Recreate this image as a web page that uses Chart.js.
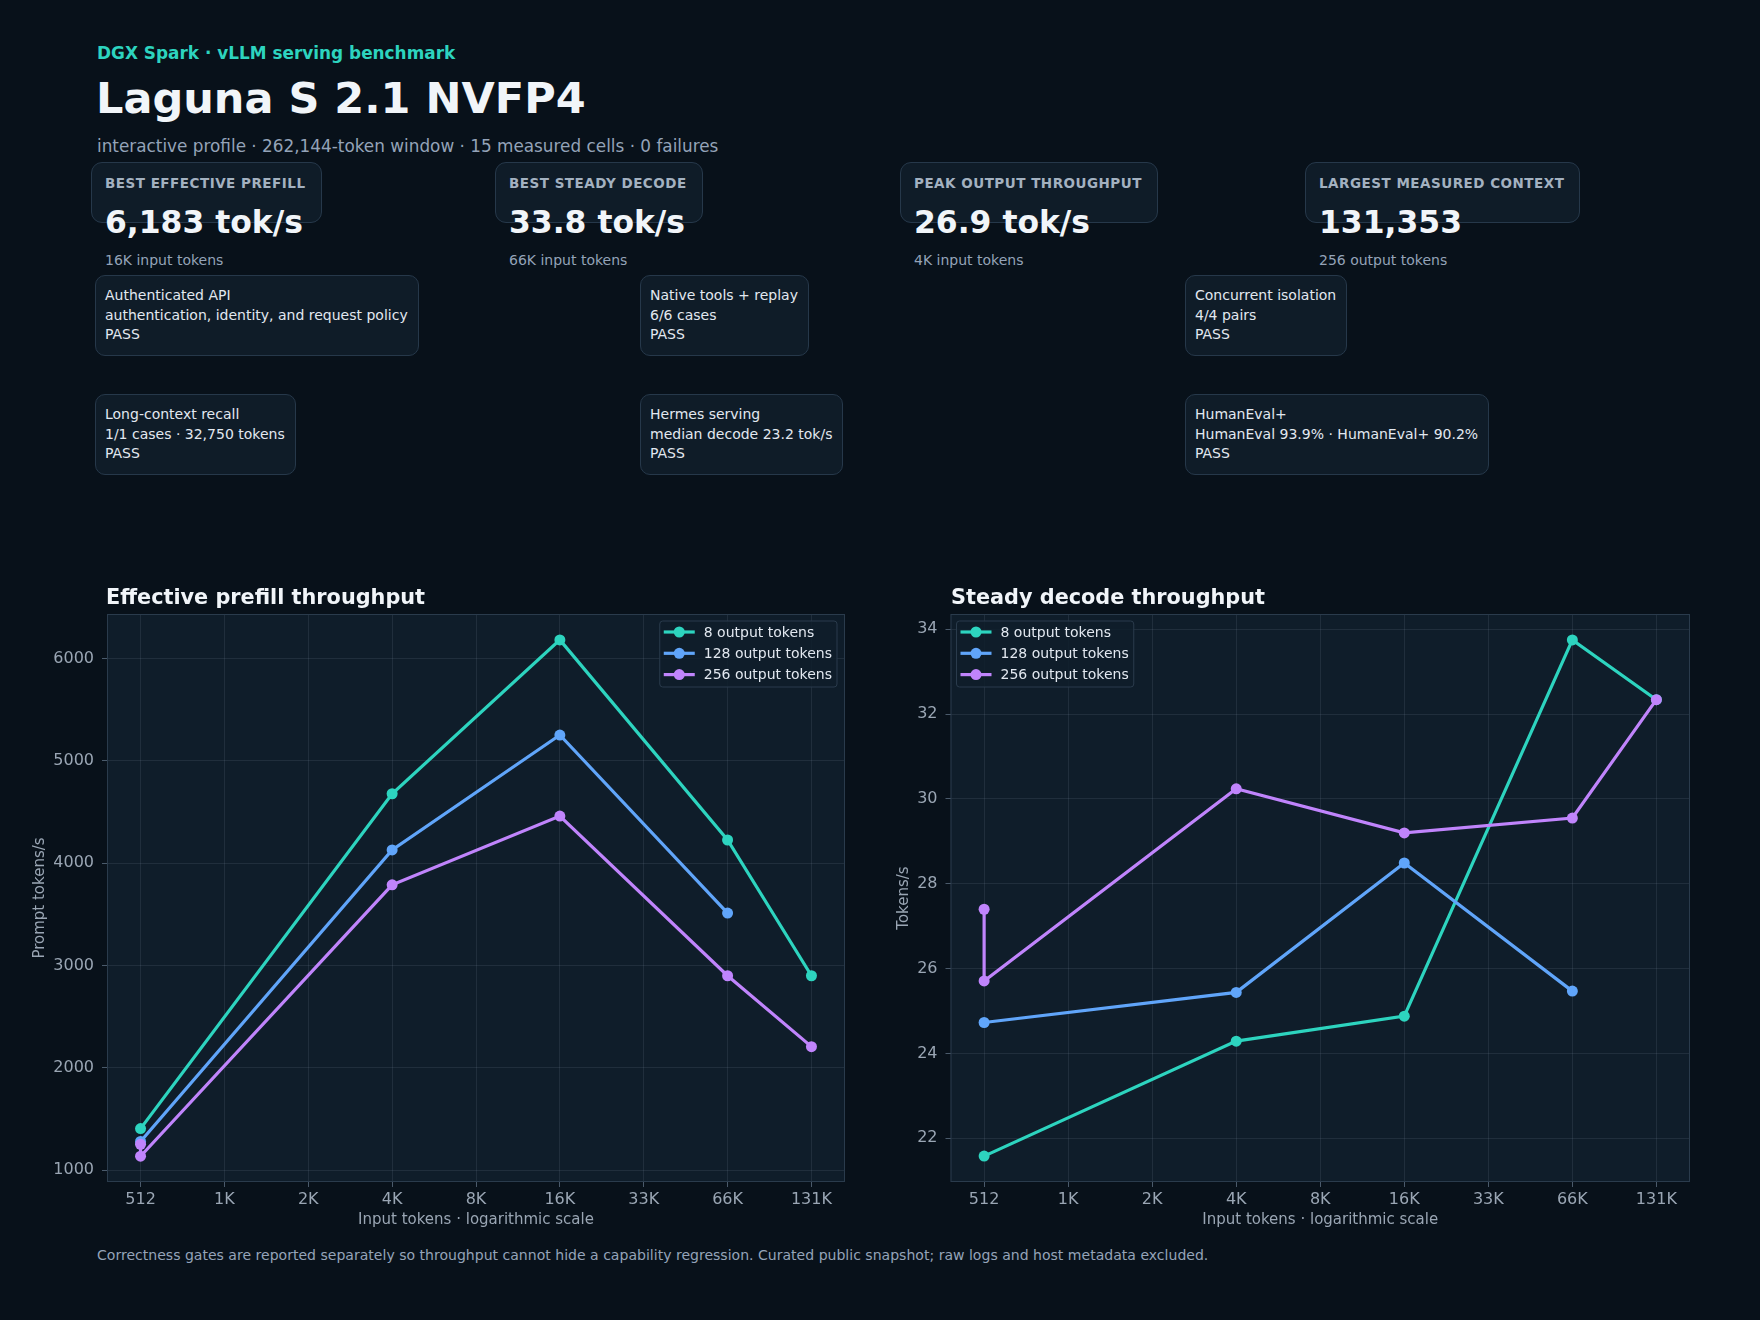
<!DOCTYPE html>
<html>
<head>
<meta charset="utf-8">
<script src="https://cdn.jsdelivr.net/npm/chart.js@4.4.1/dist/chart.umd.min.js"></script>
<style>
  body { margin: 0; background: #08111a; font-family: "DejaVu Sans", sans-serif; }
  #page { position: relative; width: 1760px; height: 1320px; overflow: hidden; }
  #kicker { position: absolute; left: 97px; top: 45px; font-size: 16.9px; line-height: 17px; font-weight: bold; color: #2dd4bf; }
  #title { position: absolute; left: 96px; top: 77px; margin: 0; font-size: 43px; line-height: 43px; font-weight: bold; color: #f1f5f9; }
  #sub { position: absolute; left: 97px; top: 138px; font-size: 16.85px; line-height: 17px; color: #94a3b8; }
  .stat { position: absolute; top: 162px; }
  .stat .box { display: inline-block; height: 61px; box-sizing: border-box; padding: 14px 15px 0 13px; border: 1.5px solid #26384a; border-radius: 11px; background: #0f1c28; font-size: 13.5px; line-height: 13.5px; font-weight: bold; letter-spacing: 0.5px; color: #a3b1c0; white-space: nowrap; }
  .stat .val { position: absolute; left: 14px; top: 45px; font-size: 31.4px; line-height: 31px; font-weight: bold; color: #f1f5f9; white-space: nowrap; }
  .stat .note { position: absolute; left: 14px; top: 91px; font-size: 14px; line-height: 14px; color: #94a3b8; white-space: nowrap; }
  .gate { position: absolute; height: 81px; box-sizing: border-box; padding: 10px 10px 0 9px; border: 1.5px solid #26384a; border-radius: 10px; background: #0f1c28; color: #e2e8f0; font-size: 14px; line-height: 19.5px; white-space: nowrap; }
  .chart { position: absolute; top: 570px; width: 880px; height: 660px; }
  .ctitle { position: absolute; top: 587px; font-size: 20.8px; line-height: 21px; font-weight: bold; color: #f1f5f9; }
  #foot { position: absolute; left: 97px; top: 1248px; font-size: 14.05px; line-height: 14px; color: #94a3b8; }
</style>
</head>
<body>
<div id="page">
  <div id="kicker">DGX Spark · vLLM serving benchmark</div>
  <h1 id="title">Laguna S 2.1 NVFP4</h1>
  <div id="sub">interactive profile · 262,144-token window · 15 measured cells · 0 failures</div>

  <div class="stat" style="left:91px"><div class="box">BEST EFFECTIVE PREFILL</div><div class="val">6,183 tok/s</div><div class="note">16K input tokens</div></div>
  <div class="stat" style="left:495px"><div class="box">BEST STEADY DECODE</div><div class="val">33.8 tok/s</div><div class="note">66K input tokens</div></div>
  <div class="stat" style="left:900px"><div class="box">PEAK OUTPUT THROUGHPUT</div><div class="val">26.9 tok/s</div><div class="note">4K input tokens</div></div>
  <div class="stat" style="left:1305px"><div class="box">LARGEST MEASURED CONTEXT</div><div class="val">131,353</div><div class="note">256 output tokens</div></div>

  <div class="gate" style="left:95px;top:275px">Authenticated API<br>authentication, identity, and request policy<br>PASS</div>
  <div class="gate" style="left:640px;top:275px">Native tools + replay<br>6/6 cases<br>PASS</div>
  <div class="gate" style="left:1185px;top:275px">Concurrent isolation<br>4/4 pairs<br>PASS</div>
  <div class="gate" style="left:95px;top:394px">Long-context recall<br>1/1 cases · 32,750 tokens<br>PASS</div>
  <div class="gate" style="left:640px;top:394px">Hermes serving<br>median decode 23.2 tok/s<br>PASS</div>
  <div class="gate" style="left:1185px;top:394px">HumanEval+<br>HumanEval 93.9% · HumanEval+ 90.2%<br>PASS</div>

  <div class="chart" style="left:0px"><canvas id="prefill" width="880" height="660"></canvas></div>
  <div class="chart" style="left:880px"><canvas id="decode" width="880" height="660"></canvas></div>
  <div class="ctitle" style="left:106px">Effective prefill throughput</div>
  <div class="ctitle" style="left:951px">Steady decode throughput</div>

  <div id="foot">Correctness gates are reported separately so throughput cannot hide a capability regression. Curated public snapshot; raw logs and host metadata excluded.</div>
</div>

<script>
// x axis: input tokens (log scale, powers of two)
var xTicks = [512, 1024, 2048, 4096, 8192, 16384, 32768, 65536, 131072];
var xTickLabels = ['512', '1K', '2K', '4K', '8K', '16K', '33K', '66K', '131K'];

var seriesNames = ['8 output tokens', '128 output tokens', '256 output tokens'];
var seriesColors = ['#2dd4bf', '#60a5fa', '#c084fc'];

// input tokens per series (256 has two runs at 512)
var x8 = [512, 4096, 16384, 65536, 131072];
var x128 = [512, 4096, 16384, 65536];
var x256 = [512, 512, 4096, 16384, 65536, 131072];

// effective prefill, prompt tokens/s
var prefill8 = [1406, 4679, 6183, 4227, 2900];
var prefill128 = [1280, 4130, 5253, 3513];
var prefill256 = [1253, 1136, 3789, 4461, 2900, 2207];
var prefillTicks = [1000, 2000, 3000, 4000, 5000, 6000];

// steady decode, tokens/s
var decode8 = [21.58, 24.29, 24.88, 33.75, 32.34];
var decode128 = [24.73, 25.44, 28.49, 25.47];
var decode256 = [27.40, 25.71, 30.24, 29.20, 29.55, 32.34];
var decodeTicks = [22, 24, 26, 28, 30, 32, 34];

var tickColor = '#9aa6b4';
var gridColor = 'rgba(148,163,184,0.13)';
var tickMarkColor = '#4a5a6b';
var plotBg = '#0f1d2a';
var frameColor = '#2a3b4c';

Chart.defaults.font.family = '"DejaVu Sans", sans-serif';
Chart.defaults.color = tickColor;

function pairs(xs, ys) {
  return xs.map(function (x, i) { return { x: x, y: ys[i] }; });
}

function makeDatasets(ys) {
  var xs = [x8, x128, x256];
  return ys.map(function (y, i) {
    return {
      label: seriesNames[i],
      data: pairs(xs[i], y),
      borderColor: seriesColors[i],
      backgroundColor: seriesColors[i],
      pointBackgroundColor: seriesColors[i],
      pointBorderWidth: 0,
      pointRadius: 5.5,
      borderWidth: 3.2,
      tension: 0,
      order: 2 - i
    };
  });
}

function drawLegend(chart, side) {
  var a = chart.chartArea, c = chart.ctx;
  c.save();
  c.font = '14px "DejaVu Sans"';
  var tw = 0;
  seriesNames.forEach(function (n) { tw = Math.max(tw, c.measureText(n).width); });
  var w = 44 + tw + 5, h = 66;
  var x = side === 'right' ? a.right - 8 - w : a.left + 6;
  var y = a.top + 7;
  c.beginPath();
  c.roundRect(x, y, w, h, 3);
  c.fillStyle = 'rgba(15,29,42,0.85)';
  c.fill();
  c.lineWidth = 1;
  c.strokeStyle = frameColor;
  c.stroke();
  seriesNames.forEach(function (n, i) {
    var ly = y + 11 + i * 21.3;
    c.strokeStyle = seriesColors[i];
    c.lineWidth = 3.2;
    c.beginPath();
    c.moveTo(x + 4, ly);
    c.lineTo(x + 35, ly);
    c.stroke();
    c.fillStyle = seriesColors[i];
    c.beginPath();
    c.arc(x + 19.5, ly, 5.5, 0, Math.PI * 2);
    c.fill();
    c.fillStyle = '#e2e8f0';
    c.textBaseline = 'middle';
    c.fillText(n, x + 44, ly + 1);
  });
  c.restore();
}

var plotFrame = {
  id: 'plotFrame',
  beforeDraw: function (chart) {
    var a = chart.chartArea, c = chart.ctx;
    c.save();
    c.fillStyle = plotBg;
    c.fillRect(a.left, a.top, a.width, a.height);
    c.restore();
  },
  afterDraw: function (chart) {
    var a = chart.chartArea, c = chart.ctx;
    c.save();
    c.strokeStyle = frameColor;
    c.lineWidth = 1;
    c.strokeRect(a.left + 0.5, a.top + 0.5, a.width - 1, a.height - 1);
    c.restore();
    drawLegend(chart, chart.options.plugins.plotFrame.legendSide);
  }
};

function buildChart(id, ys, yMin, yMax, yTicks, yTitle, pad, yWidth, legendSide) {
  return new Chart(document.getElementById(id), {
    type: 'line',
    data: { datasets: makeDatasets(ys) },
    plugins: [plotFrame],
    options: {
      responsive: false,
      animation: false,
      layout: { padding: pad },
      plugins: {
        legend: { display: false },
        tooltip: { enabled: false },
        plotFrame: { legendSide: legendSide }
      },
      scales: {
        x: {
          type: 'logarithmic',
          bounds: 'data',
          min: Math.pow(2, 8.6),
          max: Math.pow(2, 17.4),
          afterBuildTicks: function (s) { s.ticks = xTicks.map(function (v) { return { value: v }; }); },
          afterFit: function (s) { s.height = 48; },
          ticks: {
            callback: function (v, i) { return xTickLabels[i]; },
            autoSkip: false, maxRotation: 0,
            color: tickColor, font: { size: 16 }, padding: 3
          },
          grid: { color: gridColor, tickColor: tickMarkColor, tickLength: 5 },
          border: { display: false },
          title: { display: true, text: 'Input tokens · logarithmic scale', color: tickColor, font: { size: 15 }, padding: { top: 0, bottom: 1 } }
        },
        y: {
          type: 'linear',
          bounds: 'data',
          min: yMin,
          max: yMax,
          afterBuildTicks: function (s) { s.ticks = yTicks.map(function (v) { return { value: v }; }); },
          afterFit: function (s) { s.width = yWidth; },
          ticks: {
            callback: function (v) { return String(v); },
            color: tickColor, font: { size: 16 }, padding: 8
          },
          grid: { color: gridColor, tickColor: tickMarkColor, tickLength: 5 },
          border: { display: false },
          title: { display: true, text: yTitle, color: tickColor, font: { size: 15 }, padding: { top: 3, bottom: 0 } }
        }
      }
    }
  });
}

buildChart('prefill', [prefill8, prefill128, prefill256], 884, 6436, prefillTicks, 'Prompt tokens/s',
  { left: 28, right: 35, top: 44, bottom: 0 }, 79, 'right');
buildChart('decode', [decode8, decode128, decode256], 20.97, 34.36, decodeTicks, 'Tokens/s',
  { left: 12, right: 70, top: 44, bottom: 0 }, 58.5, 'left');
</script>
</body>
</html>
